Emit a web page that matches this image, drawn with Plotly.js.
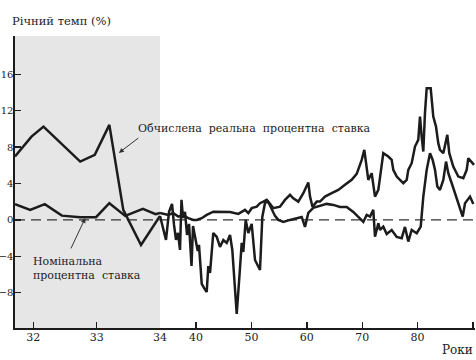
<!DOCTYPE html>
<html>
<head>
<meta charset="utf-8">
<script src="https://cdn.plot.ly/plotly-3.0.1.min.js"></script>
<style>html,body{margin:0;padding:0;background:#fff;}#chart{width:476px;height:360px;}</style>
</head>
<body>
<div id="chart"></div>
<script>
// ---- Data ----
// Early period 1931-1934 (stretched scale)
const yearsEarlyReal = [31.71, 31.97, 32.16, 32.74, 32.97, 33.20, 33.42, 33.70, 34.0];
const realEarly      = [6.96, 9.15, 10.25, 6.41, 7.14, 10.44, 1.10, -2.75, 0.44];
const yearsEarlyNom  = [31.71, 31.95, 32.18, 32.45, 32.74, 32.99, 33.20, 33.45, 33.73, 33.93, 34.0];
const nominalEarly   = [1.73, 1.10, 1.73, 0.47, 0.30, 0.30, 1.84, 0.44, 1.21, 0.63, 0.77];

// Later period 1934-1990
const yearsReal = [33.50,34.04,34.58,35.13,35.67,36.03,36.39,36.75,37.11,37.38,37.65,38.01,38.38,38.74,39.19,39.46,39.82,40.31,40.54,41.03,41.44,41.93,42.22,42.53,43.12,43.74,44.33,44.93,45.54,46.14,46.55,47.04,47.35,47.94,48.25,48.54,48.97,49.44,50.05,50.65,51.25,51.55,51.97,52.45,53.05,53.66,54.26,54.86,55.76,56.97,58.18,59.08,59.67,60.27,61.17,62.38,63.59,64.78,65.99,67.20,68.39,69.30,70.20,70.81,71.41,72.00,72.31,72.91,73.21,73.81,74.42,75.32,76.23,77.13,77.72,78.32,78.93,79.84,80.56,81.03,81.64,82.24,82.72,83.14,83.56,84.04,84.64,85.13,85.54,86.16,86.75,87.65,88.14,88.56,89.46,90.05];
const realRate  = [0.44,-0.88,-2.20,0.88,1.76,-0.55,-2.20,-1.43,-3.30,2.20,0.22,0.88,-1.65,-0.44,-5.06,-0.66,-1.98,-3.41,-2.75,-7.03,-7.47,-7.91,-5.06,-5.82,-1.43,-1.87,-2.97,-2.20,-2.53,-1.65,-3.30,-8.46,-10.33,-5.28,-2.53,-3.52,0.00,-1.43,-0.44,-4.40,-5.17,-5.50,0.33,1.87,1.98,1.10,0.44,0.00,-0.22,0.00,0.22,0.33,-0.77,0.77,1.32,1.54,1.76,1.65,1.43,1.43,0.88,0.33,-0.22,0.55,0.36,1.10,-1.84,-0.36,-1.10,-0.74,-1.54,-1.10,-1.87,-2.01,-0.77,-2.38,-1.10,-1.46,-0.74,2.56,5.50,7.33,6.59,5.50,3.66,3.30,4.40,6.41,5.13,4.03,2.93,1.46,0.36,1.84,2.56,1.76];

const yearsNom = [33.50,34.04,35.00,35.90,36.81,37.71,38.61,39.51,40.13,41.03,41.93,43.12,44.64,46.14,47.64,48.25,48.84,49.44,50.05,50.96,51.55,52.15,52.76,53.36,53.95,55.16,56.06,56.97,57.56,58.47,59.37,60.27,60.58,61.03,61.79,62.38,63.28,64.49,65.69,66.89,68.10,69.01,69.91,70.38,70.81,71.10,71.71,72.00,72.31,72.91,73.52,73.81,74.71,75.32,75.61,76.23,76.82,77.42,78.03,78.32,78.93,79.53,80.12,80.43,80.73,81.03,81.33,81.64,82.36,82.83,83.32,83.73,84.04,84.64,85.36,85.72,86.44,87.35,88.25,88.86,89.15,89.76,90.18];
const nominalRate = [0.77,0.66,0.55,0.74,0.36,0.55,0.19,0.00,0.00,0.19,0.55,0.91,0.91,0.88,0.66,0.91,1.10,0.74,1.29,1.46,1.84,2.01,2.20,1.76,1.29,1.46,2.20,2.75,2.38,2.01,2.93,4.12,2.56,1.43,2.01,2.01,2.56,2.93,3.30,3.85,4.40,5.06,6.59,7.69,5.86,4.40,5.13,3.66,2.56,3.30,5.86,7.33,6.96,6.59,5.50,4.76,4.40,4.03,4.40,5.50,6.23,8.06,8.79,11.35,9.15,7.51,11.73,14.47,14.47,11.35,10.25,8.43,7.69,7.33,9.34,7.33,5.86,4.76,4.58,5.50,6.78,6.41,6.04];

// Axis ticks
const earlyTicks = [32, 33, 34];
const earlyTickText = ['32', '33', '34'];
const lateTicks = [40, 50, 60, 70, 80, 90];
const lateTickText = ['40', '50', '60', '70', '80', '90'];
const yTicks = [-8, -4, 0, 4, 8, 12, 16];

// Labels
const titleText = 'Річний темп (%)';
const xLabel = 'Роки';
const realLabel = 'Обчислена  реальна  процентна  ставка';
const nominalLabel = 'Номінальна<br>процентна  ставка';

// ---- Plot ----
const FONT = 'DejaVu Serif, Liberation Serif, serif';
const INK = '#1c1c1c';
const lineStyle = {color: INK, width: 2.5};

const traces = [
  {x: yearsEarlyReal, y: realEarly, xaxis: 'x', yaxis: 'y', mode: 'lines', line: lineStyle, hoverinfo: 'skip'},
  {x: yearsEarlyNom, y: nominalEarly, xaxis: 'x', yaxis: 'y', mode: 'lines', line: lineStyle, hoverinfo: 'skip'},
  {x: yearsReal, y: realRate, xaxis: 'x2', yaxis: 'y', mode: 'lines', line: lineStyle, hoverinfo: 'skip'},
  {x: yearsNom, y: nominalRate, xaxis: 'x2', yaxis: 'y', mode: 'lines', line: lineStyle, hoverinfo: 'skip'}
];

const axisCommon = {
  showgrid: false, zeroline: false, showline: true, linecolor: INK, linewidth: 1.6,
  ticks: 'inside', ticklen: 6, tickwidth: 1.4, tickcolor: INK,
  tickfont: {family: FONT, size: 11, color: '#222'}, fixedrange: true, ticklabelstandoff: -2
};
const split = 145 / 460;

const layout = {
  width: 476, height: 360,
  margin: {l: 15, r: 1, t: 36, b: 32},
  paper_bgcolor: '#ffffff', plot_bgcolor: 'rgba(0,0,0,0)',
  showlegend: false,
  title: {text: titleText, xref: 'container', x: 12 / 476, xanchor: 'left', yref: 'container', y: 1 - 21 / 360, yanchor: 'middle',
          font: {family: FONT, size: 11.5, color: '#222'}},
  xaxis: Object.assign({}, axisCommon, {domain: [0, split], range: [31.71, 34.0],
          tickvals: earlyTicks, ticktext: earlyTickText, anchor: 'y'}),
  xaxis2: Object.assign({}, axisCommon, {domain: [split, 1], range: [33.5, 90.36],
          tickvals: lateTicks, ticktext: lateTickText, anchor: 'y'}),
  yaxis: Object.assign({}, axisCommon, {range: [-11.87, 20.2], tickvals: yTicks, anchor: 'x',
          tickfont: {family: FONT, size: 10, color: '#222'}}),
  shapes: [
    {type: 'rect', xref: 'x', yref: 'paper', x0: 31.71, x1: 34.0, y0: 0, y1: 1,
     fillcolor: '#e6e6e6', line: {width: 0}, layer: 'below'},
    {type: 'line', xref: 'paper', yref: 'y', x0: 0, x1: 1, y0: 0, y1: 0,
     line: {color: '#333', width: 1.3, dash: '10px,6px'}, layer: 'below'}
  ],
  annotations: [
    {text: xLabel, xref: 'paper', yref: 'paper', x: 1, y: -22 / 292, xanchor: 'right', yanchor: 'middle',
     showarrow: false, font: {family: FONT, size: 12, color: '#222'}},
    {text: realLabel, xref: 'paper', yref: 'paper', x: (136 - 15) / 460, y: (328 - 128) / 292,
     xanchor: 'left', yanchor: 'middle', showarrow: false, font: {family: FONT, size: 11, color: '#222'}},
    {text: nominalLabel, xref: 'paper', yref: 'paper', x: (31 - 15) / 460, y: (328 - 268) / 292,
     xanchor: 'left', yanchor: 'middle', align: 'left', showarrow: false,
     font: {family: FONT, size: 11, color: '#222'}},
    {text: '', xref: 'x', yref: 'y', x: 33.35, y: 7.36, ax: 21, ay: -16, axref: 'pixel', ayref: 'pixel',
     showarrow: true, arrowhead: 2, arrowsize: 1, arrowwidth: 1, arrowcolor: '#333'},
    {text: '', xref: 'x', yref: 'y', x: 32.82, y: 0.22, ax: -15, ay: 32, axref: 'pixel', ayref: 'pixel',
     showarrow: true, arrowhead: 2, arrowsize: 1, arrowwidth: 1, arrowcolor: '#333'}
  ]
};

Plotly.newPlot('chart', traces, layout, {staticPlot: true, displayModeBar: false});
</script>
</body>
</html>
